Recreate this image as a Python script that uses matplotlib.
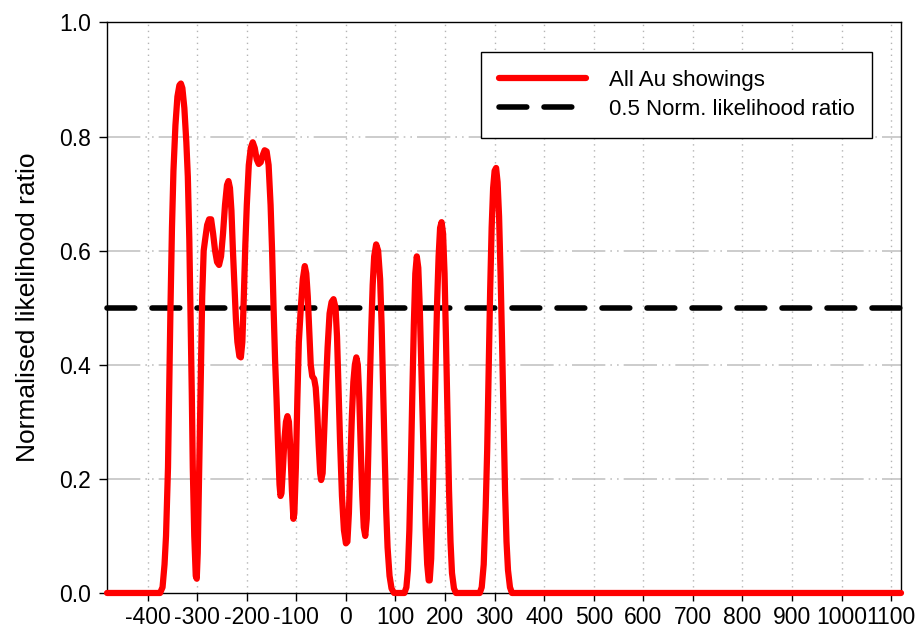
import matplotlib
matplotlib.use("Agg")
import matplotlib.pyplot as plt

plt.rcParams["font.family"] = ["Liberation Sans", "DejaVu Sans"]
plt.rcParams["axes.unicode_minus"] = False

# Distance along profile and normalised likelihood ratio for all Au showings
distance = [
    -482, -375, -370, -366, -363, -361, -359, -357, -354, -351, -348, -344,
    -340, -336, -333, -330, -326, -322, -319, -316, -314, -311, -309, -306,
    -303, -301, -299, -297, -295, -292, -290, -287, -284, -280, -276, -272,
    -268, -264, -260, -256, -252, -248, -244, -240, -237, -234, -231, -228,
    -225, -222, -219, -215, -212, -209, -206, -203, -200, -196, -192, -188,
    -184, -180, -176, -172, -168, -164, -160, -156, -152, -149, -146, -143,
    -140, -137, -134, -132, -130, -127, -124, -121, -118, -115, -112, -109,
    -106, -104, -101, -98, -95, -91, -87, -83, -80, -77, -74, -71,
    -68, -64, -61, -58, -55, -52, -50, -47, -44, -40, -37, -33,
    -29, -25, -21, -18, -15, -12, -8, -4, 0, 3, 6, 9,
    12, 15, 18, 21, 24, 27, 30, 33, 36, 39, 42, 45,
    48, 51, 54, 57, 61, 65, 69, 72, 75, 78, 81, 84,
    88, 92, 97, 118, 122, 125, 128, 131, 134, 137, 140, 143,
    146, 149, 152, 155, 158, 161, 164, 167, 169, 172, 175, 178,
    181, 184, 187, 190, 193, 196, 199, 202, 205, 208, 211, 214,
    218, 222, 270, 274, 278, 282, 285, 288, 291, 294, 297, 300,
    303, 306, 309, 312, 315, 318, 321, 324, 327, 331, 335, 1120,
]
ratio = [
    0.0, 0.0, 0.01, 0.05, 0.10, 0.16, 0.22, 0.33, 0.50, 0.64, 0.74, 0.82,
    0.87, 0.89, 0.893, 0.885, 0.85, 0.79, 0.73, 0.62, 0.51, 0.35, 0.22, 0.10,
    0.03, 0.025, 0.07, 0.17, 0.28, 0.42, 0.52, 0.60, 0.62, 0.645, 0.655, 0.655,
    0.63, 0.60, 0.58, 0.575, 0.59, 0.63, 0.68, 0.715, 0.722, 0.71, 0.67, 0.60,
    0.54, 0.48, 0.44, 0.415, 0.413, 0.44, 0.52, 0.61, 0.68, 0.75, 0.78, 0.79,
    0.78, 0.76, 0.752, 0.755, 0.767, 0.776, 0.774, 0.75, 0.68, 0.60, 0.50, 0.41,
    0.34, 0.26, 0.19, 0.17, 0.175, 0.22, 0.27, 0.30, 0.31, 0.30, 0.25, 0.18,
    0.13, 0.14, 0.22, 0.34, 0.44, 0.50, 0.55, 0.573, 0.56, 0.52, 0.46, 0.40,
    0.38, 0.375, 0.36, 0.32, 0.26, 0.21, 0.198, 0.21, 0.28, 0.37, 0.43, 0.49,
    0.51, 0.515, 0.50, 0.45, 0.36, 0.27, 0.17, 0.11, 0.087, 0.09, 0.14, 0.23,
    0.31, 0.37, 0.40, 0.413, 0.40, 0.34, 0.25, 0.17, 0.115, 0.10, 0.13, 0.24,
    0.36, 0.46, 0.54, 0.59, 0.611, 0.60, 0.55, 0.47, 0.36, 0.25, 0.15, 0.08,
    0.03, 0.008, 0.0, 0.0, 0.01, 0.04, 0.11, 0.22, 0.35, 0.47, 0.56, 0.59,
    0.57, 0.50, 0.40, 0.30, 0.20, 0.11, 0.05, 0.022, 0.022, 0.06, 0.16, 0.28,
    0.40, 0.51, 0.59, 0.64, 0.65, 0.63, 0.56, 0.44, 0.31, 0.18, 0.09, 0.035,
    0.008, 0.0, 0.0, 0.01, 0.05, 0.15, 0.25, 0.39, 0.53, 0.64, 0.71, 0.74,
    0.745, 0.72, 0.66, 0.56, 0.44, 0.31, 0.18, 0.09, 0.04, 0.01, 0.0, 0.0,
]

threshold_x = [-482, 1120]
threshold_y = [0.5, 0.5]

x_ticks = list(range(-400, 1101, 100))
y_ticks = [0.0, 0.2, 0.4, 0.6, 0.8, 1.0]

fig = plt.figure(figsize=(9.18, 6.37), dpi=100)
ax = fig.add_axes([0.1166, 0.0691, 0.9815 - 0.1166, 0.9647 - 0.0691])

ax.plot(threshold_x, threshold_y, color="black", lw=4,
        linestyle=(0, (5.0, 3.1)), dash_capstyle="round",
        label="0.5 Norm. likelihood ratio", zorder=3, clip_on=False)
ax.plot(distance, ratio, color="#ff0000", lw=4.5, solid_capstyle="round",
        solid_joinstyle="round", label="All Au showings", zorder=4,
        clip_on=False)

ax.set_xlim(-482, 1120)
ax.set_ylim(0.0, 1.0)
ax.set_xticks(x_ticks)
ax.set_xticklabels([str(v) for v in x_ticks])
ax.set_yticks(y_ticks)
ax.set_yticklabels([f"{v:.1f}" for v in y_ticks])

# Grid: dotted verticals, dash-dot-dot horizontals
for xv in x_ticks:
    ax.axvline(xv, color="#b4b4b4", lw=1.0, linestyle=(0, (1, 3.3)), zorder=1)
for yv in y_ticks[1:-1]:
    ax.axhline(yv, color="#c4c4c4", lw=1.2,
               linestyle=(0, (20, 3, 1, 3, 1, 3)), zorder=1)

for s in ax.spines.values():
    s.set_linewidth(1.0)
    s.set_color("black")
ax.tick_params(direction="out", length=5.5, width=1.0, labelsize=16.5,
               colors="black")
ax.tick_params(axis="x", pad=4)
ax.tick_params(axis="y", pad=6)

ax.set_ylabel("Normalised likelihood ratio", fontsize=19, labelpad=14)

handles, labels = ax.get_legend_handles_labels()
leg = ax.legend(handles[::-1], labels[::-1], loc="upper right",
                bbox_to_anchor=(0.9635, 0.948), borderaxespad=0,
                fontsize=16, handlelength=3.95, handletextpad=1.0,
                borderpad=0.8, labelspacing=0.36, fancybox=False,
                framealpha=1, edgecolor="black")
leg.get_frame().set_linewidth(1.0)

fig.savefig("out.png", dpi=100)
